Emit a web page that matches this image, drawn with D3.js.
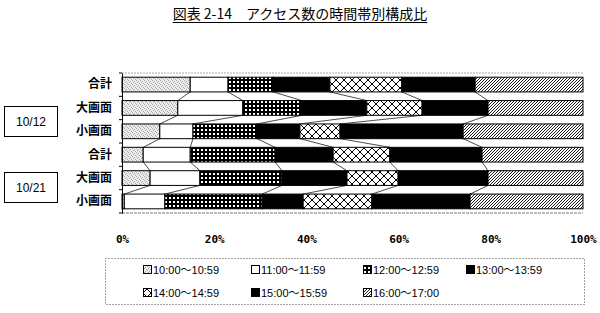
<!DOCTYPE html>
<html>
<head>
<meta charset="utf-8">
<script src="https://cdn.jsdelivr.net/npm/d3@7"></script>
<style>
  body { margin: 0; background: #fff; }
  svg { display: block; }
</style>
</head>
<body>
<svg id="chart"></svg>
<script>
// rows, top to bottom
const categories = ["合計", "大画面", "小画面", "合計", "大画面", "小画面"];
const groups = ["10/12", "10/21"];
const seriesNames = ["10:00～10:59", "11:00～11:59", "12:00～12:59", "13:00～13:59",
                     "14:00～14:59", "15:00～15:59", "16:00～17:00"];
const xTicks = [0, 20, 40, 60, 80, 100];

// percent share per time slot, one value per row
const s1000 = [14.8, 12.1, 8.2, 4.6, 6.1, 0.5];
const s1100 = [8.2, 14.1, 7.2, 10.2, 10.8, 8.8];
const s1200 = [9.8, 12.8, 13.9, 18.4, 17.8, 21.1];
const s1300 = [12.3, 14.1, 9.3, 12.6, 14.1, 8.9];
const s1400 = [15.6, 12.0, 8.7, 12.3, 11.1, 14.9];
const s1500 = [15.9, 14.3, 26.7, 20.0, 19.5, 21.3];
const s1600 = [23.4, 20.6, 26.0, 21.9, 20.6, 24.5];

const seriesValues = [s1000, s1100, s1200, s1300, s1400, s1500, s1600];
const fills = ["url(#dots)", "#fff", "url(#grid)", "#000", "url(#cross)", "#000", "url(#hatch)"];

const width = 600, height = 313;
const svg = d3.select("#chart").attr("width", width).attr("height", height);

// patterns
const defs = svg.append("defs");
const dots = defs.append("pattern").attr("id", "dots").attr("patternUnits", "userSpaceOnUse")
    .attr("width", 4).attr("height", 4);
dots.append("rect").attr("width", 4).attr("height", 4).attr("fill", "#ececec");
[[0, 0], [2, 1], [1, 2], [3, 3]].forEach(p => {
    dots.append("rect").attr("x", p[0]).attr("y", p[1]).attr("width", 1).attr("height", 1).attr("fill", "#a8a8a8");
});

const grid = defs.append("pattern").attr("id", "grid").attr("patternUnits", "userSpaceOnUse")
    .attr("width", 4).attr("height", 4);
grid.append("rect").attr("width", 4).attr("height", 4).attr("fill", "#000");
grid.append("rect").attr("x", 1).attr("y", 1).attr("width", 2).attr("height", 2).attr("fill", "#fff");

const cross = defs.append("pattern").attr("id", "cross").attr("patternUnits", "userSpaceOnUse")
    .attr("width", 8).attr("height", 8);
cross.append("rect").attr("width", 8).attr("height", 8).attr("fill", "#fff");
cross.append("path").attr("d", "M0,0L8,8M8,0L0,8").attr("stroke", "#000").attr("stroke-width", 1);

const hatch = defs.append("pattern").attr("id", "hatch").attr("patternUnits", "userSpaceOnUse")
    .attr("width", 3).attr("height", 3);
hatch.append("rect").attr("width", 3).attr("height", 3).attr("fill", "#fff");
hatch.append("path").attr("d", "M-1,1L1,-1M0,3L3,0M2,4L4,2").attr("stroke", "#000").attr("stroke-width", 0.9);

// title
const title = svg.append("text")
    .attr("x", 300).attr("y", 19)
    .attr("text-anchor", "middle")
    .attr("font-family", "Noto Sans CJK JP")
    .attr("font-size", 14)
    .attr("font-weight", "normal")
    .text("図表 2-14　アクセス数の時間帯別構成比");
const tw = title.node().getComputedTextLength();
svg.append("line")
    .attr("x1", 300 - tw / 2).attr("x2", 300 + tw / 2)
    .attr("y1", 22.5).attr("y2", 22.5)
    .attr("stroke", "#000").attr("stroke-width", 1);

// scales
const plot = { left: 122, right: 583, top: 73, bottom: 213 };
const x = d3.scaleLinear().domain([0, 100]).range([plot.left, plot.right]);
const y = d3.scaleBand().domain(d3.range(categories.length))
    .range([plot.top, plot.bottom]).paddingInner(0.37).paddingOuter(0.18);

const rows = categories.map((c, i) => {
    const r = { idx: i };
    seriesNames.forEach((s, k) => r[s] = seriesValues[k][i]);
    return r;
});
const stacked = d3.stack().keys(seriesNames)(rows);

// plot frame
svg.append("line").attr("x1", plot.left).attr("x2", plot.right)
    .attr("y1", plot.top).attr("y2", plot.top)
    .attr("stroke", "#aaa").attr("stroke-dasharray", "2,1");
svg.append("line").attr("x1", plot.left).attr("x2", plot.right)
    .attr("y1", plot.bottom).attr("y2", plot.bottom)
    .attr("stroke", "#777").attr("stroke-dasharray", "3,1");

// series lines between neighbouring bars
const lines = svg.append("g").attr("stroke", "#000").attr("stroke-width", 0.7);
stacked.slice(0, -1).forEach(layer => {
    for (let i = 0; i < categories.length - 1; i++) {
        lines.append("line")
            .attr("x1", x(layer[i][1])).attr("y1", y(i) + y.bandwidth())
            .attr("x2", x(layer[i + 1][1])).attr("y2", y(i + 1));
    }
});

// bars
svg.append("g").selectAll("g")
    .data(stacked)
    .join("g")
    .attr("fill", (d, k) => fills[k])
    .selectAll("rect")
    .data(d => d)
    .join("rect")
    .attr("x", d => x(d[0]))
    .attr("y", d => y(d.data.idx))
    .attr("width", d => x(d[1]) - x(d[0]))
    .attr("height", y.bandwidth())
    .attr("stroke", "#000")
    .attr("stroke-width", 1);

// y axis
const yAxis = svg.append("g")
    .attr("transform", `translate(${plot.left},0)`)
    .call(d3.axisLeft(y).tickSize(0).tickPadding(10).tickFormat(i => categories[i]));
yAxis.select(".domain").attr("stroke", "#000");
yAxis.selectAll("text")
    .attr("font-family", "Noto Sans CJK JP")
    .attr("font-size", 12)
    .attr("font-weight", "bold");
yAxis.selectAll(".btick")
    .data(d3.range(categories.length + 1))
    .join("line")
    .attr("class", "btick")
    .attr("x1", -3).attr("x2", 0)
    .attr("y1", i => plot.top + i * (plot.bottom - plot.top) / categories.length)
    .attr("y2", i => plot.top + i * (plot.bottom - plot.top) / categories.length)
    .attr("stroke", "#000");

// x axis labels
const xAxis = svg.append("g")
    .attr("transform", `translate(0,${plot.bottom})`)
    .call(d3.axisBottom(x).tickValues(xTicks).tickSize(0).tickPadding(22).tickFormat(d => d + "%"));
xAxis.select(".domain").remove();
xAxis.selectAll("text")
    .attr("font-family", "DejaVu Sans Mono")
    .attr("font-size", 11)
    .attr("font-weight", "bold");

// group boxes
const groupBoxes = [{ y: 106, h: 30 }, { y: 172, h: 30 }];
groups.forEach((g, i) => {
    svg.append("rect")
        .attr("x", 4.5).attr("y", groupBoxes[i].y + 0.5)
        .attr("width", 53).attr("height", groupBoxes[i].h)
        .attr("fill", "#fff").attr("stroke", "#000");
    svg.append("text")
        .attr("x", 31).attr("y", groupBoxes[i].y + groupBoxes[i].h / 2 + 5)
        .attr("text-anchor", "middle")
        .attr("font-family", "Liberation Sans")
        .attr("font-size", 12)
        .text(g);
});

// legend
svg.append("rect")
    .attr("x", 105.5).attr("y", 258.5).attr("width", 479).attr("height", 46)
    .attr("fill", "none").attr("stroke", "#444").attr("stroke-dasharray", "1,2");
const legendX = [143, 251, 363, 466];
const legendY = [270, 293];
const legend = svg.append("g").selectAll("g")
    .data(seriesNames)
    .join("g")
    .attr("transform", (d, i) => `translate(${legendX[i % 4]},${legendY[Math.floor(i / 4)]})`);
legend.append("rect")
    .attr("x", 0.5).attr("y", -4.5).attr("width", 8).attr("height", 8)
    .attr("fill", (d, i) => fills[i]).attr("stroke", "#000");
legend.append("text")
    .attr("x", 10).attr("y", 4)
    .attr("font-family", "Liberation Sans, Noto Sans CJK JP")
    .attr("font-size", 11)
    .text(d => d);
</script>
</body>
</html>
